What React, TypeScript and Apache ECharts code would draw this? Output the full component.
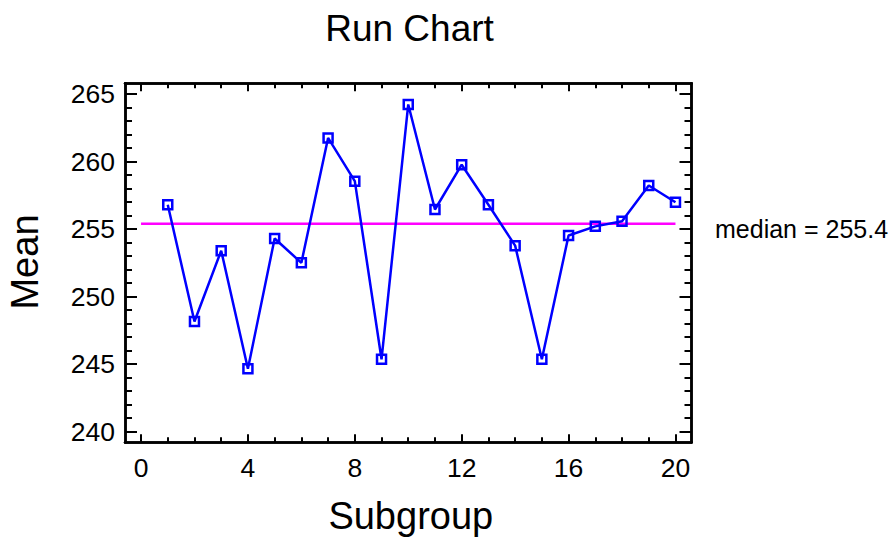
import React, { useEffect, useRef } from "react";
import * as echarts from "echarts";

const subgroups = [1, 2, 3, 4, 5, 6, 7, 8, 9, 10, 11, 12, 13, 14, 15, 16, 17, 18, 19, 20];
const means = [256.8, 248.15, 253.4, 244.65, 254.3, 252.5, 261.75, 258.55, 245.35, 264.23, 256.45, 259.77, 256.8, 253.77, 245.35, 254.52, 255.2, 255.58, 258.23, 256.99];
const median = 255.4;
const medianSpan = [0, 20];
const xMajorTicks = [0, 4, 8, 12, 16, 20];
const xMinorTicks = [0, 1, 2, 3, 4, 5, 6, 7, 8, 9, 10, 11, 12, 13, 14, 15, 16, 17, 18, 19, 20];
const yMajorTicks = [240, 245, 250, 255, 260, 265];
const yMinorTicks = [240, 241, 242, 243, 244, 245, 246, 247, 248, 249, 250, 251, 252, 253, 254, 255, 256, 257, 258, 259, 260, 261, 262, 263, 264, 265];

const FONT = "'Liberation Sans', Arial, Helvetica, sans-serif";
const X_MIN = -0.6;
const X_MAX = 20.6;
const Y_MIN = 239.2;
const Y_MAX = 265.8;

const lineStyle = { color: "#000", width: 2.5 };
const tickStyle = { color: "#000", width: 2 };

function xAxis(grid: number, position: "bottom" | "top", ticks: number[], len: number, labels: boolean) {
  return {
    type: "value",
    gridIndex: grid,
    position,
    min: X_MIN,
    max: X_MAX,
    axisLine: { show: true, onZero: false, lineStyle },
    axisTick: { show: true, inside: true, length: len, customValues: ticks, lineStyle: tickStyle },
    axisLabel: labels
      ? { show: true, customValues: ticks, fontSize: 26.5, color: "#000", margin: 12, fontFamily: FONT }
      : { show: false },
    splitLine: { show: false },
  };
}

function yAxis(grid: number, position: "left" | "right", ticks: number[], len: number, labels: boolean) {
  return {
    type: "value",
    gridIndex: grid,
    position,
    min: Y_MIN,
    max: Y_MAX,
    axisLine: { show: true, onZero: false, lineStyle },
    axisTick: { show: true, inside: true, length: len, customValues: ticks, lineStyle: tickStyle },
    axisLabel: labels
      ? { show: true, customValues: ticks, fontSize: 26.5, color: "#000", margin: 10, fontFamily: FONT }
      : { show: false },
    splitLine: { show: false },
  };
}

export default function App() {
  const ref = useRef<HTMLDivElement>(null);
  useEffect(() => {
    if (!ref.current) return;
    const chart = echarts.init(ref.current, undefined, { renderer: "svg" });
    const gridRect = { left: 125, right: 200.5, top: 83.3, bottom: 97.7, containLabel: false };
    chart.setOption({
      animation: false,
      backgroundColor: "#fff",
      grid: [gridRect, gridRect],
      xAxis: [
        xAxis(0, "bottom", xMajorTicks, 8, true),
        xAxis(0, "top", xMajorTicks, 8, false),
        xAxis(1, "bottom", xMinorTicks, 5, false),
        xAxis(1, "top", xMinorTicks, 5, false),
      ],
      yAxis: [
        yAxis(0, "left", yMajorTicks, 12, true),
        yAxis(0, "right", yMajorTicks, 12, false),
        yAxis(1, "left", yMinorTicks, 7, false),
        yAxis(1, "right", yMinorTicks, 7, false),
      ],
      series: [
        {
          type: "line",
          xAxisIndex: 0,
          yAxisIndex: 0,
          data: medianSpan.map((x) => [x, median]),
          symbol: "none",
          lineStyle: { color: "#ff00ff", width: 2.5 },
          silent: true,
        },
        {
          type: "line",
          xAxisIndex: 0,
          yAxisIndex: 0,
          data: subgroups.map((s, i) => [s, means[i]]),
          symbol: "rect",
          symbolSize: 9,
          itemStyle: { color: "rgba(0,0,0,0)", borderColor: "#0000ff", borderWidth: 2.5 },
          lineStyle: { color: "#0000ff", width: 2.5 },
        },
      ],
      graphic: [
        {
          type: "text",
          x: 409.5,
          y: 28.8,
          style: { text: "Run Chart", fontSize: 37, fontFamily: FONT, fill: "#000", textAlign: "center", textVerticalAlign: "middle" },
        },
        {
          type: "text",
          x: 410.8,
          y: 516.3,
          style: { text: "Subgroup", fontSize: 38, fontFamily: FONT, fill: "#000", textAlign: "center", textVerticalAlign: "middle" },
        },
        {
          type: "text",
          x: 24.5,
          y: 262,
          rotation: Math.PI / 2,
          style: { text: "Mean", fontSize: 38, fontFamily: FONT, fill: "#000", textAlign: "center", textVerticalAlign: "middle" },
        },
        {
          type: "text",
          x: 715,
          y: 228.5,
          style: { text: "median = 255.4", fontSize: 25, fontFamily: FONT, fill: "#000", textAlign: "left", textVerticalAlign: "middle" },
        },
      ],
    });
    return () => chart.dispose();
  }, []);
  return <div ref={ref} style={{ position: "fixed", left: 0, top: 0, width: 892, height: 540 }} />;
}
